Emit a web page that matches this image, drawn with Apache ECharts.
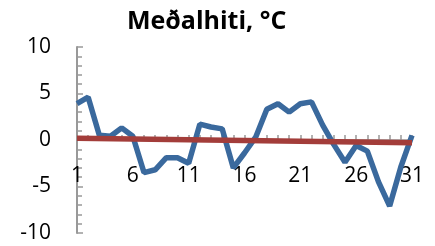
<!DOCTYPE html>
<html>
<head>
<meta charset="utf-8">
<script src="https://cdn.jsdelivr.net/npm/echarts@6/dist/echarts.min.js"></script>
<style>
  html, body { margin: 0; padding: 0; background: #fff; }
  #chart { width: 435px; height: 246px; }
</style>
</head>
<body>
<div id="chart"></div>
<script>
// dagar mánaðarins
var days = [];
for (var d = 1; d <= 31; d++) days.push(String(d));

// meðalhiti hvers dags (lesið af mynd)
var meanTemp = [3.9, 4.6, 0.5, 0.4, 1.3, 0.4, -3.5, -3.2, -1.9, -1.9, -2.5,
  1.7, 1.4, 1.2, -3.0, -1.4, 0.3, 3.3, 3.9, 3.0, 3.9, 4.1, 1.6, -0.5,
  -2.4, -0.6, -1.2, -4.5, -7.1, -2.9, 0.5];

// leitnilína: upphaf og endir
var trendStart = 0.2;
var trendEnd = -0.3;
var trend = days.map(function (v, i) {
  if (i === 0) return trendStart;
  if (i === days.length - 1) return trendEnd;
  return null;
});

var chart = echarts.init(document.getElementById("chart"));
chart.setOption({
  animation: false,
  title: {
    text: "Meðalhiti, °C",
    left: 122,
    top: 4,
    textStyle: {
      fontFamily: "Open Sans",
      fontWeight: "bold",
      fontSize: 25,
      color: "#000"
    }
  },
  grid: { left: 77, right: 23, top: 47, bottom: 13, outerBoundsMode: "none", containLabel: false },
  xAxis: {
    type: "category",
    data: days,
    boundaryGap: false,
    position: "bottom",
    offset: -93,
    axisLine: { onZero: false, lineStyle: { color: "#999", width: 1.5 } },
    axisTick: { inside: true, length: 5, interval: 0, lineStyle: { color: "#999", width: 1.5 } },
    axisLabel: {
      interval: 4,
      margin: 26,
      fontFamily: "Open Sans",
      fontSize: 21,
      color: "#000"
    },
    splitLine: { show: false }
  },
  yAxis: {
    type: "value",
    min: -10,
    max: 10,
    interval: 5,
    axisLine: { show: true, lineStyle: { color: "#999", width: 2 } },
    axisTick: { show: true, inside: true, length: 6, lineStyle: { color: "#999", width: 1.5 } },
    minorTick: { show: true, splitNumber: 5, length: 5, lineStyle: { color: "#999", width: 1.5 } },
    axisLabel: {
      margin: 26,
      fontFamily: "Open Sans",
      fontSize: 21,
      color: "#000"
    },
    splitLine: { show: false }
  },
  series: [
    {
      name: "Meðalhiti",
      type: "line",
      data: meanTemp,
      symbol: "none",
      lineStyle: { color: "#3A699D", width: 5.5 },
      z: 2
    },
    {
      name: "Leitni",
      type: "line",
      data: trend,
      connectNulls: true,
      symbol: "none",
      lineStyle: { color: "#A33D3A", width: 5.5 },
      z: 3
    }
  ]
});
</script>
</body>
</html>
